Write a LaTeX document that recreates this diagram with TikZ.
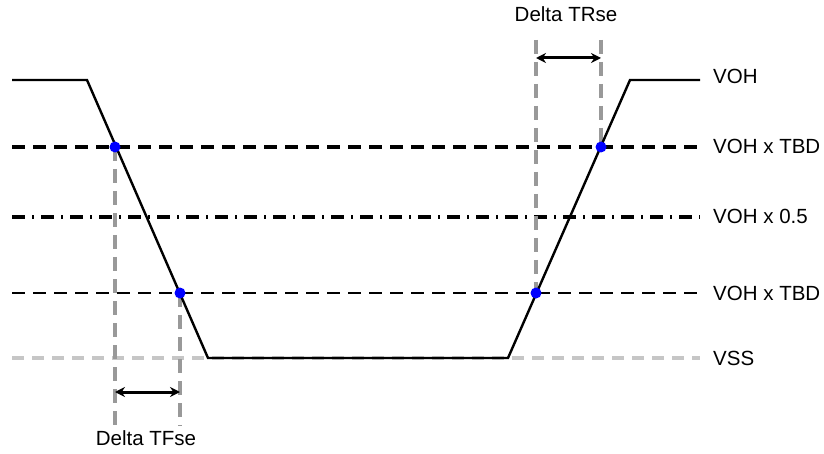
\documentclass[tikz,border=0pt]{standalone}
\usepackage{fontspec}
\setmainfont{Liberation Sans}
\usetikzlibrary{arrows.meta}
\begin{document}
\begin{tikzpicture}[x=1pt,y=-1pt,
  sig/.style={line width=2.4pt,black},
  tbdhi/.style={line width=3.5pt,black,dash pattern=on 13pt off 8pt},
  tbdlo/.style={line width=2.4pt,black,dash pattern=on 13pt off 8pt},
  half/.style={line width=3.5pt,black,dash pattern=on 13pt off 7pt on 2pt off 7pt},
  vss/.style={line width=3.5pt,gray!45,dash pattern=on 12pt off 8pt},
  guide/.style={line width=3.5pt,gray!80,dash pattern=on 14pt off 8pt},
  meas/.style={line width=3pt,black,{Stealth[length=10pt,width=10pt]}-{Stealth[length=10pt,width=10pt]}},
  dot/.style={circle,fill=blue,inner sep=0pt,minimum size=11pt},
  lbl/.style={font=\fontsize{20.5}{22}\selectfont,inner sep=0pt},
]
\useasboundingbox (0,0) rectangle (824,454);
% level coordinates
\coordinate (hiL) at (12,147); \coordinate (hiR) at (700,147);
\coordinate (mdL) at (12,217); \coordinate (mdR) at (700,217);
\coordinate (loL) at (12,293); \coordinate (loR) at (700,293);
\coordinate (ssL) at (12,358); \coordinate (ssR) at (700,358);
% horizontal reference lines
\draw[vss] (ssL) -- (ssR);
\draw[tbdlo] (loL) -- (loR);
\draw[half] (mdL) -- (mdR);
\draw[tbdhi] (hiL) -- (hiR);
% guide lines
\coordinate (g1t) at (115,147); \coordinate (g1b) at (115,426);
\coordinate (g2t) at (180,293); \coordinate (g2b) at (180,426);
\coordinate (g3t) at (536,40); \coordinate (g3b) at (536,293);
\coordinate (g4t) at (601,40); \coordinate (g4b) at (601,147);
\draw[guide] (g1t) -- (g1b);
\draw[guide] (g2t) -- (g2b);
\draw[guide] (g3t) -- (g3b);
\draw[guide] (g4t) -- (g4b);
% signal
\coordinate (s0) at (12,80);
\coordinate (s1) at (87,80);
\coordinate (s2) at (208,358);
\coordinate (s3) at (508,358);
\coordinate (s4) at (630,80);
\coordinate (s5) at (700,80);
\draw[sig,line join=miter] (s0) -- (s1) -- (s2) -- (s3) -- (s4) -- (s5);
% dots
\node[dot] (d1) at (115,147) {};
\node[dot] (d2) at (180,293) {};
\node[dot] (d3) at (536,293) {};
\node[dot] (d4) at (601,147) {};
% measurement arrows
\coordinate (a1) at (115,392); \coordinate (a2) at (180,392);
\coordinate (a3) at (536,58); \coordinate (a4) at (601,58);
\draw[meas] (a1) -- (a2);
\draw[meas] (a3) -- (a4);
% labels
\node[lbl,anchor=base west] (lvoh) at (713,84) {VOH};
\node[lbl,anchor=base west] (lhi) at (713,154) {VOH x TBD};
\node[lbl,anchor=base west] (lmd) at (713,224) {VOH x 0.5};
\node[lbl,anchor=base west] (llo) at (713,300) {VOH x TBD};
\node[lbl,anchor=base west] (lss) at (713,365) {VSS};
\node[lbl,anchor=base] (ltf) at (146,445) {Delta TFse};
\node[lbl,anchor=base] (ltr) at (566,22) {Delta TRse};
\end{tikzpicture}
\end{document}
